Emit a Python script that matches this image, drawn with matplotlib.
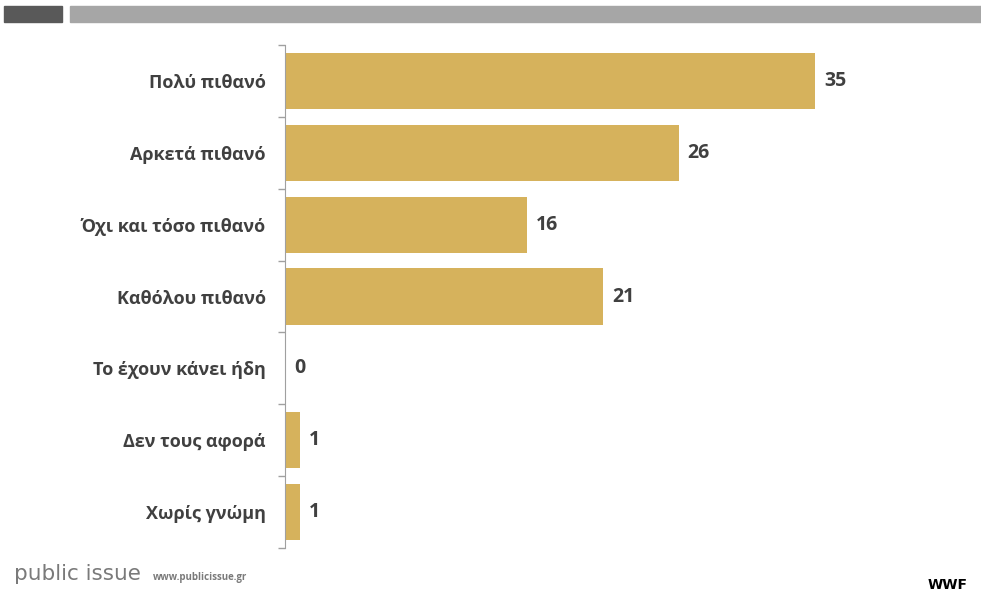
import matplotlib.pyplot as plt
import numpy as np
from matplotlib.patches import Rectangle

categories = ["Πολύ πιθανό", "Αρκετά πιθανό", "Όχι και τόσο πιθανό", "Καθόλου πιθανό",
              "Το έχουν κάνει ήδη", "Δεν τους αφορά", "Χωρίς γνώμη"]
values = [35, 26, 16, 21, 0, 1, 1]

bar_color = '#D6B25C'
text_color = '#404040'

W, H = 981, 591
fig = plt.figure(figsize=(W / 100, H / 100), dpi=100)

# header bars
fig.patches.append(Rectangle((4 / W, 1 - 22 / H), 58 / W, 16 / H,
                             transform=fig.transFigure, color='#595959'))
fig.patches.append(Rectangle((70 / W, 1 - 22 / H), 911 / W, 16 / H,
                             transform=fig.transFigure, color='#a6a6a6'))

ax = fig.add_axes([285 / W, 1 - 548 / H, 696 / W, 503 / H])
y = np.arange(len(categories))
ax.barh(y, values, height=0.78, color=bar_color)
ax.set_ylim(len(categories) - 0.5, -0.5)
ax.set_xlim(0, 696 / 15.14)

for yi, v in zip(y, values):
    ax.text(v + 0.6, yi, str(v), va='center', ha='left', fontsize=14,
            fontweight='bold', color=text_color, family='Open Sans')

ax.set_yticks(y)
ax.set_yticklabels(categories, fontsize=13, fontweight='bold', color=text_color,
                   family='Open Sans')
ax.tick_params(axis='y', which='major', length=0, pad=14)
ax.set_yticks(np.arange(-0.5, len(categories)), minor=True)
ax.tick_params(axis='y', which='minor', length=5, color='#a0a0a0', width=1)
ax.set_xticks([])
for s in ['top', 'right', 'bottom']:
    ax.spines[s].set_visible(False)
ax.spines['left'].set_color('#a0a0a0')

# footer
fig.text(14 / W, 1 - 580 / H, "public issue", fontsize=15.5, color='#7a7a7a',
         family='DejaVu Sans', va='baseline')
fig.text(153 / W, 1 - 580 / H, "www.publicissue.gr", fontsize=7, color='#7a7a7a',
         fontweight='bold', family='Open Sans', va='baseline')
fig.text(948 / W, 1 - 589 / H, "WWF", fontsize=10, color='black',
         fontweight='bold', ha='center', va='baseline')

fig.savefig('out.png', dpi=100)
